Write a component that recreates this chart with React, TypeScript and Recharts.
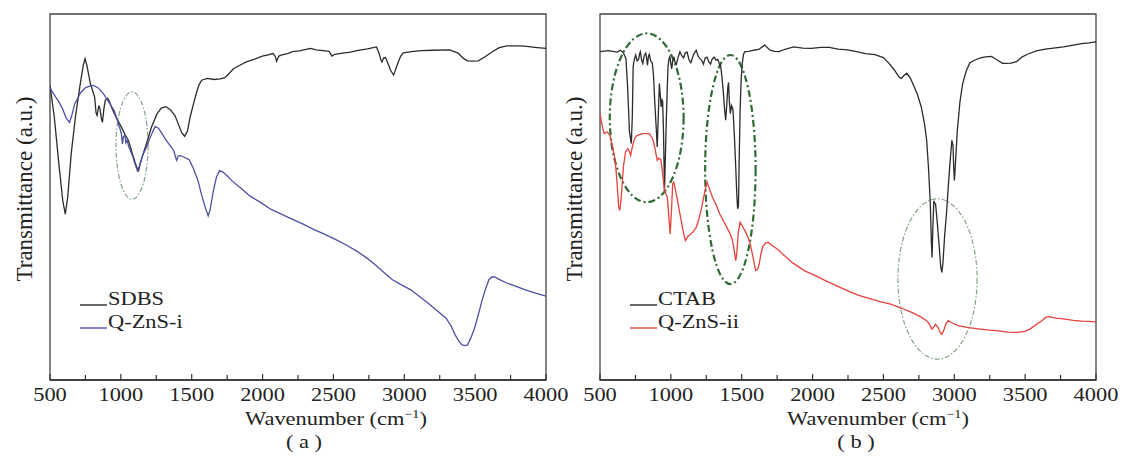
import React from 'react';
import { LineChart, Line, XAxis, YAxis, ReferenceArea } from 'recharts';

// wavenumber (cm-1) / transmittance (a.u., 0 = bottom of frame, 100 = top)
const sdbsWn = [500, 530, 560, 590, 608, 625, 650, 680, 710, 735, 747, 760, 785, 815, 825, 832, 845, 853, 862, 870, 880, 890, 905, 915, 940, 970, 1004, 1030, 1054, 1080, 1100, 1117, 1125, 1135, 1155, 1180, 1215, 1255, 1285, 1318, 1350, 1381, 1410, 1430, 1450, 1470, 1490, 1507, 1530, 1550, 1570, 1610, 1658, 1700, 1734, 1765, 1797, 1840, 1885, 1940, 1998, 2040, 2074, 2090, 2099, 2115, 2137, 2175, 2212, 2260, 2338, 2380, 2426, 2470, 2489, 2510, 2565, 2620, 2665, 2740, 2804, 2820, 2835, 2842, 2855, 2867, 2885, 2905, 2925, 2940, 2955, 2975, 2993, 3050, 3119, 3200, 3320, 3380, 3420, 3446, 3480, 3522, 3570, 3622, 3670, 3723, 3800, 3849, 3920, 4000];
const sdbsT = [80.5, 72, 60, 49, 45.3, 50, 62, 72, 80, 86, 87.8, 86, 81, 77.3, 73, 72.3, 75, 74, 71.5, 70.4, 74, 76.4, 77, 76.5, 74, 71.5, 69.1, 67, 65.4, 62, 59.5, 57.6, 57.2, 59, 61.5, 64.5, 69, 72.7, 74.3, 74.7, 73.8, 72.3, 69.5, 67.5, 66.6, 68, 72, 74.6, 78, 80.5, 81.9, 82.4, 82.1, 82.3, 82.6, 83.8, 85.1, 86, 86.9, 87.6, 88.5, 88.8, 89.2, 88.4, 87.1, 88.5, 88.8, 89.2, 89.7, 89.9, 90.6, 90.2, 90, 89.8, 88.5, 89, 89.3, 89.6, 90, 90.5, 91, 89.5, 87.5, 86.9, 88, 88.1, 86.5, 84.5, 83.3, 85, 86.6, 88.5, 89.4, 89.7, 90, 90.1, 90.2, 89.3, 87.8, 87.2, 87.1, 87.2, 88.3, 89.7, 90.8, 91.3, 91.3, 91.2, 90.9, 90.6];

const qzn1Wn = [500, 520, 545, 563, 590, 615, 638, 655, 675, 689, 715, 752, 780, 807, 840, 878, 905, 930, 953, 975, 995, 1004, 1011, 1018, 1029, 1035, 1045, 1055, 1067, 1085, 1100, 1117, 1135, 1155, 1180, 1210, 1242, 1265, 1293, 1320, 1356, 1375, 1385, 1394, 1405, 1419, 1440, 1460, 1482, 1510, 1545, 1570, 1596, 1616, 1630, 1645, 1658, 1675, 1696, 1720, 1750, 1784, 1850, 1910, 1990, 2061, 2140, 2212, 2290, 2363, 2440, 2514, 2590, 2665, 2730, 2791, 2850, 2917, 2980, 3043, 3105, 3169, 3230, 3295, 3330, 3358, 3385, 3408, 3430, 3446, 3470, 3496, 3520, 3547, 3570, 3597, 3620, 3640, 3680, 3723, 3790, 3849, 3920, 4000];
const qzn1T = [79.9, 78.5, 77, 76, 74, 71.5, 70.4, 72.5, 75.5, 76.4, 78.5, 79.9, 80.3, 80.5, 79.8, 78.2, 76.5, 75, 73.6, 71, 68.5, 67.2, 64.5, 66.5, 66.8, 64.8, 65.5, 63.8, 62.7, 61, 59, 57.2, 58.8, 61.5, 63.6, 66.5, 69.3, 68.8, 67.2, 65.5, 63.6, 62.5, 61, 60, 61.2, 61.3, 61, 60.6, 60.2, 58, 54.4, 50.5, 47.1, 44.8, 46.5, 50, 52.6, 55.5, 57.2, 56.8, 55.8, 54.4, 52.3, 50.3, 48.4, 46.6, 45.2, 43.9, 42.5, 41.1, 39.8, 38.4, 36.9, 35.2, 33.5, 31.6, 29.6, 27.4, 26, 24.7, 22.9, 21, 19, 16.9, 14.8, 12.4, 10.6, 9.6, 9.4, 9.6, 11.5, 14.2, 17.5, 21.5, 24.5, 27.4, 28.2, 28.1, 27.3, 26.5, 25.6, 24.7, 23.8, 22.9];

const ctabWn = [500, 560, 620, 645, 665, 683, 695, 708, 721, 728, 734, 742, 752, 762, 772, 780, 785, 793, 802, 812, 823, 830, 835, 842, 848, 858, 869, 878, 886, 895, 904, 911, 919, 926, 932, 938, 942, 948, 955, 962, 968, 974, 980, 987, 993, 1000, 1006, 1013, 1021, 1030, 1039, 1050, 1064, 1077, 1090, 1102, 1115, 1128, 1141, 1160, 1179, 1192, 1204, 1217, 1230, 1242, 1255, 1268, 1280, 1293, 1306, 1318, 1331, 1342, 1352, 1360, 1369, 1378, 1387, 1395, 1402, 1407, 1413, 1420, 1428, 1438, 1448, 1458, 1465, 1471, 1477, 1483, 1489, 1496, 1504, 1513, 1522, 1550, 1585, 1620, 1662, 1700, 1730, 1764, 1800, 1866, 1930, 1992, 2060, 2119, 2180, 2246, 2310, 2373, 2440, 2500, 2540, 2577, 2610, 2627, 2645, 2665, 2690, 2716, 2740, 2767, 2790, 2805, 2818, 2830, 2838, 2843, 2849, 2856, 2862, 2868, 2880, 2894, 2904, 2912, 2920, 2932, 2945, 2957, 2970, 2983, 2991, 2996, 3001, 3008, 3021, 3040, 3059, 3085, 3110, 3150, 3186, 3220, 3262, 3300, 3340, 3364, 3400, 3440, 3480, 3516, 3580, 3643, 3700, 3770, 3840, 3897, 3950, 4000];
const ctabT = [89.7, 90, 89.6, 90.1, 89.4, 87.8, 80, 67.8, 64.6, 72, 85.6, 87.5, 88.8, 87.2, 87.6, 89.2, 89.7, 87.5, 86.5, 88.6, 89.3, 87.6, 86, 88.5, 89, 87.2, 86.6, 83, 76.3, 70, 63.7, 72, 81, 77.5, 74.6, 76.5, 76.2, 68, 51.8, 62, 71, 79, 85.6, 87.8, 88.4, 86.5, 85, 87.2, 88.3, 86.7, 86.3, 88, 89.7, 88.6, 88, 89.4, 89.6, 87.5, 86.7, 88.9, 90.1, 88.5, 87.8, 87.4, 86.3, 88, 88.2, 86.9, 86.3, 87.8, 88.2, 87.4, 87.6, 86.4, 85.6, 83, 79.2, 74.5, 71, 75.5, 80, 81.3, 76, 72.8, 75, 74, 67, 58, 51, 46.8, 47.5, 62, 74, 82, 86.5, 89, 89.7, 89.8, 90.1, 90.3, 91.5, 90.1, 89.8, 89.7, 90.3, 91, 90.7, 90.6, 90.9, 90.9, 90.4, 90.2, 89.7, 89.2, 88.9, 88.1, 86.5, 84.7, 82.8, 82.4, 83.2, 83.8, 82.5, 80.2, 78, 74.6, 70, 65.5, 58, 49, 38, 33.5, 42, 49, 48.3, 48.1, 43, 36.3, 31, 29.4, 32, 39.5, 45.5, 52.5, 59.5, 65.5, 64, 58, 54.5, 59, 68, 76, 81, 84.5, 86.7, 87.5, 88, 88.3, 88.4, 87.5, 86.5, 86.5, 86.6, 87, 88.3, 89, 89.9, 90.4, 90.7, 91, 91.5, 91.9, 92.1, 92.4];

const qzn2Wn = [500, 515, 530, 550, 569, 590, 607, 620, 632, 640, 650, 665, 680, 696, 706, 716, 730, 745, 760, 800, 848, 870, 886, 895, 904, 915, 929, 940, 955, 965, 975, 985, 995, 1004, 1013, 1020, 1026, 1045, 1064, 1085, 1102, 1120, 1141, 1160, 1179, 1198, 1217, 1237, 1255, 1270, 1293, 1320, 1344, 1370, 1395, 1415, 1433, 1447, 1458, 1466, 1475, 1489, 1505, 1522, 1540, 1560, 1580, 1598, 1612, 1623, 1636, 1649, 1668, 1687, 1720, 1760, 1789, 1860, 1941, 2020, 2094, 2170, 2246, 2320, 2398, 2470, 2551, 2630, 2704, 2760, 2805, 2825, 2843, 2856, 2868, 2885, 2900, 2912, 2925, 2940, 2957, 2990, 3034, 3100, 3186, 3250, 3313, 3380, 3440, 3500, 3542, 3590, 3618, 3645, 3669, 3720, 3770, 3840, 3897, 3950, 4000];
const qzn2T = [72.8, 69.5, 67.3, 67.8, 67, 63.5, 60, 54, 47.2, 46.3, 50, 58.2, 62.3, 63.2, 62.5, 61.4, 64, 66, 66.8, 67.3, 67.3, 66, 63.7, 61.8, 60, 60.6, 60.2, 57, 51.8, 50.8, 50, 45, 39.9, 46, 53.6, 54, 53.2, 49.5, 45.4, 41, 38.1, 39.2, 39.9, 40.6, 41.7, 44, 47, 51, 54.1, 52.5, 50, 47.8, 45.4, 43.5, 41.7, 40.2, 38.4, 35.5, 32.6, 35, 40, 43.1, 42, 40.8, 39.4, 37.2, 33.5, 29.9, 30.2, 31.6, 34.5, 36.5, 37.4, 37.6, 36.6, 35.5, 34.4, 32, 29.9, 28.5, 27.1, 25.7, 24.4, 23.2, 22.3, 21.5, 20.7, 19.6, 18.4, 17.3, 16.2, 15.2, 13.9, 14.5, 15.2, 14.4, 13, 12.5, 13.5, 15.2, 16.2, 15.5, 14.8, 14.3, 13.9, 13.6, 13.4, 13.1, 13, 13.3, 14.1, 15.5, 16.2, 17.1, 17.3, 16.9, 16.7, 16.3, 16.1, 16, 15.9];

const xTicks = [500, 750, 1000, 1250, 1500, 1750, 2000, 2250, 2500, 2750, 3000, 3250, 3500, 3750, 4000];

// dash-dot circles drawn around bands: [x1, x2, y1, y2]
const ellipsesA = [[966, 1192, 49.4, 78.7]];
const ellipsesB = [[569, 1090, 48.6, 94.7], [1242, 1598, 26.2, 88.8], [2602, 3161, 5.7, 49.5]];

const FONT = '"Liberation Serif", "Times New Roman", serif';
const SX = 1.18;

const pts = (wn: number[], t: number[]) => wn.map((w, i) => ({ wn: w, t: t[i] }));

function WnTick(props: any) {
  const { x, y, payload } = props;
  const v = payload.value;
  const major = v % 500 === 0;
  return (
    <g>
      <line x1={x} x2={x} y1={y} y2={y - (major ? 6 : 5)} stroke="#333" strokeWidth={1.2} />
      {major && (
        <text
          transform={`translate(${x},${y + 21}) scale(${SX},1)`}
          textAnchor="middle"
          fontFamily={FONT}
          fontSize={19}
          fill="#222"
        >
          {v}
        </text>
      )}
    </g>
  );
}

function Panel({ left, width, series, ellipses, thick }: any) {
  return (
    <div style={{ position: 'absolute', left, top: 0 }}>
      <LineChart width={width} height={458} margin={{ top: 14, left: 50, right: width - 546, bottom: 0 }}>
        <XAxis
          dataKey="wn"
          type="number"
          domain={[500, 4000]}
          ticks={xTicks}
          interval={0}
          allowDataOverflow
          height={78}
          tickSize={0}
          tickMargin={0}
          tickLine={false}
          axisLine={{ stroke: '#333', strokeWidth: 1.3 }}
          tick={<WnTick />}
        />
        <YAxis type="number" domain={[0, 100]} hide />
        <ReferenceArea
          x1={500}
          x2={4000}
          y1={0}
          y2={100}
          fill="none"
          stroke="#444"
          strokeWidth={1.3}
        />
        {ellipses.map((e: number[], i: number) => (
          <ReferenceArea
            key={i}
            x1={e[0]}
            x2={e[1]}
            y1={e[2]}
            y2={e[3]}
            shape={(p: any) => (
              <ellipse
                cx={p.x + p.width / 2}
                cy={p.y + p.height / 2}
                rx={Math.abs(p.width) / 2}
                ry={Math.abs(p.height) / 2}
                fill="none"
                stroke={thick && i < 2 ? '#2f6b35' : '#86a486'}
                strokeWidth={thick && i < 2 ? 2.2 : 1.2}
                strokeDasharray={thick && i < 2 ? '7 3 2 3' : '5 2 1.5 2'}
              />
            )}
          />
        ))}
        {series.map((s: any) => (
          <Line
            key={s.name}
            data={s.data}
            dataKey="t"
            name={s.name}
            type="linear"
            stroke={s.color}
            strokeWidth={1.3}
            dot={false}
            isAnimationActive={false}
          />
        ))}
      </LineChart>
    </div>
  );
}

function Titles({ left, yx, cx, tagCx, tag, series }: any) {
  return (
    <g fontFamily={FONT} fill="#222">
      <text transform={`translate(${yx},189) rotate(-90)`} textAnchor="middle" fontSize={23}>
        Transmittance (a.u.)
      </text>
      <text transform={`translate(${cx},425) scale(${SX},1)`} textAnchor="middle" fontSize={19}>
        Wavenumber (cm<tspan dy={-7} fontSize={12}>−1</tspan>
        <tspan dy={7}>)</tspan>
      </text>
      <text transform={`translate(${tagCx},448) scale(${SX},1)`} textAnchor="middle" fontSize={19}>
        ( {tag} )
      </text>
      {series.map((s: any, i: number) => (
        <g key={s.name}>
          <line x1={left + 30} x2={left + 57} y1={305 + i * 23} y2={305 + i * 23} stroke={s.color} strokeWidth={1.4} />
          <text transform={`translate(${left + 58},${305 + i * 23}) scale(${SX},1)`} fontSize={19}>
            {s.name}
          </text>
        </g>
      ))}
    </g>
  );
}

export default function App() {
  const seriesA = [
    { name: 'SDBS', color: '#2b2b2b', data: pts(sdbsWn, sdbsT) },
    { name: 'Q-ZnS-i', color: '#4f4fa3', data: pts(qzn1Wn, qzn1T) },
  ];
  const seriesB = [
    { name: 'CTAB', color: '#2b2b2b', data: pts(ctabWn, ctabT) },
    { name: 'Q-ZnS-ii', color: '#e5413d', data: pts(qzn2Wn, qzn2T) },
  ];
  return (
    <div style={{ position: 'absolute', left: 0, top: 0, width: 1125, height: 458, background: '#fff' }}>
      <Panel left={0} width={580} series={seriesA} ellipses={ellipsesA} thick={false} />
      <Panel left={550} width={575} series={seriesB} ellipses={ellipsesB} thick={true} />
      <svg width={1125} height={458} style={{ position: 'absolute', left: 0, top: 0, pointerEvents: 'none' }}>
        <Titles left={50} yx={32} cx={336} tagCx={304} tag="a" series={seriesA} />
        <Titles left={600} yx={582} cx={878} tagCx={856} tag="b" series={seriesB} />
      </svg>
    </div>
  );
}
